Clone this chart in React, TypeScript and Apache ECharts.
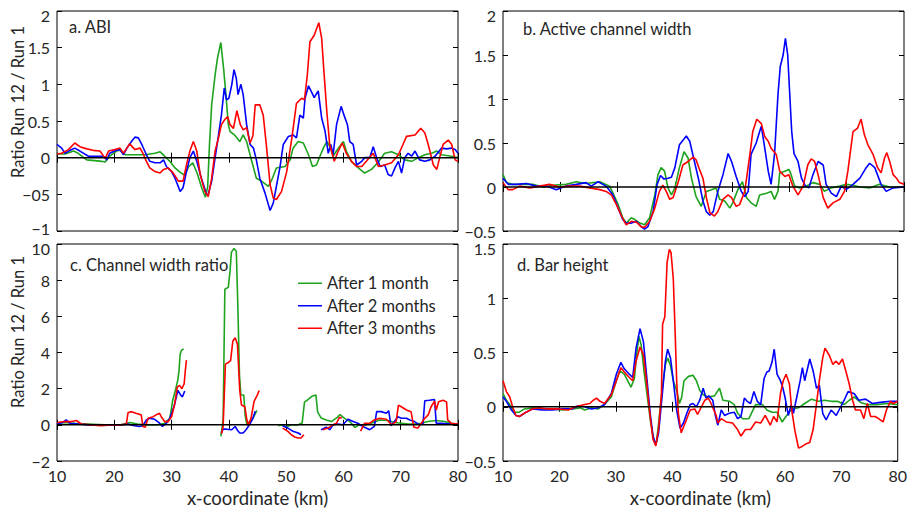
import React, { useEffect, useRef } from "react";
import * as echarts from "echarts";

// ---------- data (x km, ratio) ----------
const seriesNames = ["After 1 month", "After 2 months", "After 3 months"];
const seriesColors = ["#1ea31e", "#0000ff", "#ff0000"];

const abi1 = [[10,0.05],[11.4,0.05],[12.9,0.09],[13.7,0.06],[15.2,-0.03],[16.6,-0.04],[17.8,-0.05],[18.4,-0.06],[19.2,0.02],[20.4,0.09],[21,0.1],[21.9,0.04],[23.6,0.04],[25.4,0.04],[27.1,0.06],[28,0.08],[28.8,0.02],[29.7,-0.05],[30.6,-0.14],[31.5,-0.2],[32.3,-0.24],[33,-0.12],[33.7,-0.07],[34.5,-0.22],[35.3,-0.42],[35.9,-0.54],[36.3,-0.4],[36.6,0.15],[37,0.72],[37.6,1.13],[38,1.35],[38.6,1.57],[39.1,1.2],[39.5,0.85],[39.9,0.45],[40.2,0.36],[41.1,0.3],[41.9,0.22],[42.5,0.31],[43.1,0.22],[44,-0.05],[44.8,-0.28],[45.7,-0.32],[46.9,-0.39],[47.5,-0.3],[48.3,-0.14],[49.8,-0.12],[50.7,-0.03],[51.2,0.13],[52.1,0.22],[53,0.2],[53.9,0.04],[54.6,-0.12],[55.3,-0.1],[55.9,0.02],[56.5,0.13],[57.1,0.22],[57.8,0.13],[58.2,0.02],[59.1,0.13],[60,0.22],[60.5,0.09],[61.4,-0.05],[62.6,-0.14],[63.7,-0.21],[64.9,-0.16],[66,-0.07],[67.2,0.06],[68.4,0.08],[69.6,0.04],[70.7,-0.03],[71.9,-0.05],[73.1,0],[74.2,0.04],[75.4,0.06],[76.3,0.09],[77.1,0.04],[78.9,0.02],[80,0]];
const abi2 = [[10,0.18],[10.8,0.13],[11.4,0.06],[12.3,0.1],[13.1,0.13],[14,0.09],[15.5,0.02],[16.9,0.02],[18.1,0.02],[18.7,-0.03],[19.2,0.06],[20.4,0.1],[21,0.11],[21.6,0.04],[22.2,0.13],[23,0.22],[23.6,0.28],[24.2,0.27],[24.8,0.18],[25.6,0.04],[26.2,-0.05],[27.1,-0.07],[28,-0.07],[28.6,-0.03],[29.1,-0.12],[30,-0.19],[30.6,-0.28],[31.5,-0.46],[32,-0.41],[32.6,-0.19],[33.2,0],[33.8,0.09],[34.4,-0.05],[35.2,-0.28],[36.1,-0.5],[36.4,-0.5],[37,-0.32],[37.6,0],[38.2,0.31],[38.7,0.58],[39.2,0.95],[39.6,0.79],[40,0.81],[40.5,0.99],[40.9,1.2],[41.3,1.08],[41.6,0.86],[42.1,1],[42.5,0.86],[43.1,0.45],[43.7,0.18],[44.3,0.13],[44.8,-0.03],[45.4,-0.28],[46.3,-0.48],[47.2,-0.72],[47.75,-0.62],[48.3,-0.39],[48.9,-0.14],[49.5,0.18],[50.4,0.29],[51.2,0.31],[51.8,0.27],[52.4,0.58],[53,0.54],[53.3,0.81],[53.9,0.98],[54.4,0.9],[54.9,0.82],[55.6,0.91],[56.2,0.54],[56.8,0.36],[57.35,0.06],[57.8,0.18],[58.2,0.04],[58.8,0.45],[59.6,0.7],[60.1,0.58],[60.7,0.45],[61.1,0.22],[61.7,0.18],[62.3,-0.1],[63.2,-0.05],[63.7,0],[64.6,0],[65.2,0.15],[65.8,0],[66.4,-0.12],[67.2,-0.1],[67.8,-0.23],[68.4,-0.25],[69,-0.14],[69.6,-0.05],[70.15,-0.21],[70.7,0],[71.3,0.06],[71.9,0.02],[72.5,0.09],[73.3,-0.03],[74.2,-0.05],[75.1,-0.03],[76,0.02],[77.1,0.13],[78,0.12],[78.9,0.13],[79.5,0.11],[80,0.06]];
const abi3 = [[10,0.05],[10.8,0.06],[12,0.11],[13.1,0.2],[14,0.15],[15.2,0.12],[16.3,0.1],[17.5,0.09],[18.4,-0.01],[19,0.09],[20.1,0.11],[21,0.13],[21.6,0.06],[22.2,0.13],[22.7,0.19],[23.6,0.11],[24.5,0.13],[25,0.06],[25.6,-0.05],[26.2,-0.14],[27.1,-0.19],[28,-0.21],[28.6,-0.16],[29.4,-0.14],[30.3,-0.21],[31.2,-0.32],[32,-0.32],[32.6,-0.1],[33.2,0.09],[33.8,0.22],[34.4,0.09],[35,-0.23],[35.8,-0.46],[36.4,-0.53],[37,-0.28],[37.6,0.09],[38.2,0.27],[38.7,0.45],[39.3,0.52],[39.8,0.56],[40.2,0.45],[40.8,0.4],[41.4,0.64],[42,0.45],[42.5,0.38],[43.1,0.41],[43.7,0.2],[44.2,0.3],[44.6,0.72],[45.4,0.72],[46,0.58],[46.6,0.13],[47.2,-0.37],[47.75,-0.55],[48.3,-0.57],[49.2,-0.46],[50.1,-0.19],[51,0.27],[51.8,0.74],[52.7,0.81],[53.2,0.79],[53.7,1.13],[54.15,1.58],[54.9,1.67],[55.7,1.84],[56.2,1.63],[56.6,1.17],[57.1,0.63],[57.6,0.18],[58.4,-0.05],[59.1,0.09],[59.8,0.2],[60.5,0.06],[61.4,-0.05],[62.3,-0.12],[63.2,-0.12],[64,-0.05],[65.2,0.06],[66.1,-0.12],[67.2,-0.1],[68.4,-0.07],[69.6,0.04],[70.4,0.18],[71,0.29],[72.5,0.31],[73.5,0.4],[74.2,0.34],[74.8,0.18],[75.7,-0.1],[76.3,-0.16],[76.8,0],[77.4,0.18],[78.3,0.24],[78.9,0.18],[79.5,-0.03],[80,-0.05]];

const acw1 = [[10,0.14],[10.6,0.05],[11.7,0.03],[13.5,0.03],[15.2,0.03],[17,0],[18.7,0.02],[21,0.03],[22.8,0.06],[24.5,0.04],[26.9,0.06],[28.6,0.01],[29.2,-0.07],[30.1,-0.2],[30.9,-0.35],[31.5,-0.41],[32.4,-0.35],[33,-0.37],[33.9,-0.41],[34.7,-0.43],[35.6,-0.35],[36.5,-0.09],[37.05,0.14],[37.6,0.22],[38.2,0.18],[38.8,-0.01],[39.4,-0.09],[40,-0.01],[40.8,0.22],[41.6,0.4],[42.3,0.33],[42.9,0.1],[43.7,-0.11],[44.6,-0.22],[45.5,-0.05],[46.4,-0.03],[47.2,-0.01],[47.8,-0.14],[48.7,-0.16],[49.6,-0.24],[50.1,-0.18],[51,-0.03],[51.8,0.06],[52.5,-0.12],[53.3,-0.18],[54.2,-0.22],[54.8,-0.09],[56,-0.07],[56.8,-0.05],[57.4,-0.14],[58,-0.05],[58.3,0.16],[59.2,0.18],[59.9,0.2],[60.3,0.14],[60.9,0.01],[61.8,-0.01],[62.9,0.01],[64.1,0.05],[65.3,0.03],[66.1,-0.05],[67.3,-0.01],[68.8,0.01],[69.9,0.03],[71.1,0.02],[72.3,0],[74,-0.01],[75.7,0.03],[77.5,0],[80,0]];
const acw2 = [[10,0.1],[10.9,0.03],[12.3,0.03],[14.1,0.04],[15.8,0.01],[17.6,0.01],[19.3,-0.03],[21,0.01],[22.8,0.03],[24.5,0.05],[25.4,0.01],[26.6,0.06],[28,0.01],[29.2,-0.09],[30.1,-0.24],[30.9,-0.37],[31.5,-0.41],[32.4,-0.41],[33.3,-0.39],[34.1,-0.45],[34.7,-0.48],[35.3,-0.45],[36.2,-0.28],[36.9,0.03],[37.5,0.13],[38.1,0.09],[38.8,0.1],[39.4,0.11],[40,0.22],[40.8,0.48],[42,0.58],[42.6,0.52],[43.2,0.35],[44.1,0.1],[44.9,-0.16],[45.5,-0.28],[46.1,-0.32],[46.7,-0.28],[47.5,-0.05],[48.4,0.14],[49.3,0.38],[49.9,0.29],[50.7,0.12],[51.6,-0.05],[52.2,-0.11],[52.8,-0.05],[53.3,0.37],[54.2,0.5],[54.8,0.63],[55.1,0.69],[55.7,0.44],[56.3,0.18],[56.8,0.03],[57.4,0.37],[58,1.05],[58.4,1.37],[58.9,1.5],[59.3,1.69],[59.7,1.5],[60,1.12],[60.4,0.63],[60.8,0.38],[61.5,0.29],[62.1,0.1],[62.8,0.01],[63.4,-0.01],[64.1,0.14],[65,0.29],[65.9,0.25],[66.4,0.03],[67.3,-0.07],[68.2,-0.11],[69.05,0.01],[69.9,-0.03],[71.1,0.03],[72.3,0.1],[73.4,0.22],[74,0.27],[74.9,0.22],[76,0.03],[76.9,-0.05],[78.1,-0.01],[80,0]];
const acw3 = [[10,0.05],[10.9,-0.03],[11.7,-0.03],[12.9,0.01],[14.7,-0.01],[16.4,0.01],[18.1,0.03],[19.9,0],[21.6,0.01],[23.4,0.01],[25.1,-0.01],[26.9,-0.03],[28,-0.05],[28.9,-0.09],[29.8,-0.2],[30.7,-0.33],[31.5,-0.43],[32.4,-0.39],[33.3,-0.4],[34.1,-0.45],[34.7,-0.46],[35.6,-0.39],[36.5,-0.24],[37.3,-0.05],[37.9,0.02],[38.5,-0.05],[39.1,-0.14],[39.7,-0.12],[40.6,0.06],[41.4,0.25],[42.3,0.29],[43.2,0.34],[43.7,0.31],[44.3,0.2],[44.9,0.1],[45.5,-0.12],[46.1,-0.29],[46.9,-0.33],[47.5,-0.28],[48.4,-0.14],[49.3,-0.09],[49.9,-0.12],[50.7,-0.22],[51.3,-0.2],[52.2,-0.05],[53.1,0.37],[53.6,0.63],[54.3,0.77],[55.1,0.72],[55.7,0.57],[56.3,0.52],[56.8,0.44],[57.7,0.37],[58.3,0.18],[59.2,0.12],[59.9,0.14],[60.6,0.01],[61.5,-0.09],[62.4,0.01],[63.2,0.25],[63.8,0.32],[64.4,0.29],[65,0.14],[65.9,-0.12],[66.7,-0.24],[67.6,-0.18],[68.8,-0.14],[69.6,-0.05],[70.2,0.18],[71.1,0.63],[71.9,0.67],[72.5,0.77],[73.1,0.59],[73.7,0.48],[74.6,0.37],[75.4,0.22],[76,0.16],[76.6,0.33],[77,0.39],[77.5,0.29],[78.1,0.14],[78.7,0.1],[79.2,0.05],[80,0.03]];

const cwr1 = [[10,0.09],[11.3,0.13],[13.1,0.09],[15.4,0.05],[18.3,0],[21.2,0],[22.7,0.13],[24.1,0.04],[25.9,0],[27.6,0],[28.8,0.09],[29.7,0.36],[30.2,1.36],[30.7,1.95],[31.1,2.5],[31.3,3],[31.5,3.9],[31.7,4.1],[32.1,4.2],[35,null],[38.6,-0.64],[39,0.3],[39.3,7.5],[39.9,7.6],[40.2,8.5],[40.45,9.55],[40.9,9.75],[41.3,9.6],[41.55,6.8],[41.85,2.8],[42.1,1.65],[42.6,1.65],[42.85,0.5],[43.15,0],[43.6,0.18],[44.2,0.36],[44.9,0.8],[47,null],[48.6,-0.05],[49.2,0],[50,-0.12],[50.9,0],[52.1,0],[52.8,0.1],[53.2,1.25],[53.8,1.4],[54.5,1.58],[55.2,1.65],[55.5,0.7],[56.1,0.38],[57,0.27],[57.9,0.18],[58.8,0.38],[59.4,0.57],[60.2,0.36],[61.1,0.18],[62,-0.14],[62.8,0],[64,0],[65.2,0.13],[66.3,0.27],[67.8,0.24],[68.9,0.13],[70.1,0.09],[71.3,0.05],[72.4,0.05],[73.6,0.09],[74.7,0.18],[76.2,0.24],[77.7,0.18],[78.8,0.09],[80,0.04]];
const cwr2 = [[10,0.05],[11,0.13],[11.6,0.27],[12.2,0.09],[13.7,0.05],[15.4,0],[18.3,-0.02],[21.2,0],[22.4,0.04],[23.3,-0.04],[24.4,-0.09],[25,-0.05],[25.6,0.27],[26.2,0.36],[27,0.31],[27.9,0.09],[28.4,-0.09],[29.1,0.09],[29.7,0.36],[30.5,1.09],[31.1,1.91],[31.6,1.64],[31.9,1.55],[32.3,1.87],[35,null],[38.7,-0.45],[39,-0.24],[39.6,-0.24],[40.5,-0.27],[41.1,-0.09],[41.5,-0.3],[41.9,-0.45],[42.5,-0.45],[43,-0.27],[43.6,0],[44.2,0.36],[44.6,0.75],[47,null],[49.4,-0.05],[50.3,-0.18],[51.2,-0.36],[52.1,-0.45],[52.6,-0.55],[54,null],[56.1,-0.27],[57,-0.13],[57.6,-0.27],[58.2,0],[59,0.05],[59.9,0],[60.8,0.31],[61.7,0.18],[62.5,0.09],[63.4,-0.09],[64.6,-0.27],[65.4,-0.09],[65.8,0.73],[66.6,0.73],[67.5,0.64],[67.9,0.78],[68.3,-0.05],[68.9,0.18],[69.5,0.45],[70.1,0.36],[71,0.36],[71.6,0.27],[72.4,0.18],[73.3,0],[73.9,0.09],[74.2,1.33],[75,1.36],[75.9,1.4],[76.2,0.09],[77.1,0.09],[78.8,0.05],[80,0.05]];
const cwr3 = [[10,0.13],[11.3,0.18],[12.5,0.18],[13.4,0.24],[14.2,0.05],[16,0],[17.7,-0.05],[19.5,0],[21.2,0],[22.1,0.04],[22.4,0.67],[23,0.73],[23.8,0.64],[24.7,0.55],[25,-0.09],[25.4,-0.13],[25.9,0.36],[26.8,0.45],[27.3,0.55],[27.9,0.64],[28.2,0.45],[28.8,0.18],[29.4,0.18],[30,0.45],[30.5,1.09],[31,2.09],[31.4,2.18],[31.8,2],[32.2,2.27],[32.4,3],[32.6,3.58],[35,null],[38.7,-0.5],[39,-0.09],[39.4,3.36],[39.9,3.45],[40.3,3.55],[40.7,4.64],[41.1,4.82],[41.5,4.45],[41.9,1.9],[42.2,1.1],[42.8,1],[43.1,0.36],[43.4,-0.05],[43.9,0.4],[44.4,1.3],[44.9,1.6],[45.3,1.9],[47,null],[49.4,-0.18],[50.3,-0.36],[50.9,-0.55],[51.5,-0.67],[52.1,-0.73],[52.6,-0.73],[53.1,-0.55],[55,null],[56.4,-0.27],[57.3,-0.18],[58.2,0],[58.8,0.09],[59.3,0.42],[59.7,0.36],[61,null],[63,-0.35],[63.7,0.09],[64.6,0.09],[65.4,0.27],[66.3,0.36],[67.5,0.31],[68.4,0],[69.2,0.18],[69.6,1.09],[70.1,1],[71,0.82],[71.8,0.73],[72.3,-0.13],[73,-0.18],[73.6,0.09],[74.2,0.36],[74.8,0.55],[75.3,1],[75.9,1.31],[76.2,0.82],[76.6,1.27],[77.4,1.36],[78,1.27],[78.2,0.27],[78.8,0.09],[80,0.04]];

const bh1 = [[10,0.12],[10.6,0.06],[11.2,0.02],[12,-0.05],[12.9,-0.05],[13.8,-0.02],[15.2,-0.01],[17,-0.02],[18.7,-0.02],[20.5,-0.03],[22.2,-0.02],[23.7,-0.01],[24.5,-0.03],[25.7,-0.01],[26.9,-0.02],[28,0.02],[29.2,0.09],[30.1,0.24],[30.7,0.33],[31.5,0.3],[32.4,0.21],[32.7,0.18],[33.3,0.26],[33.7,0.48],[34.1,0.65],[34.5,0.57],[35,0.33],[35.6,0.09],[36.2,-0.15],[36.8,-0.32],[37.2,-0.33],[37.6,-0.15],[38.2,0.15],[38.8,0.39],[39.2,0.45],[39.7,0.38],[40.2,0.24],[40.8,0.15],[41.3,0.03],[41.7,0.09],[42.1,0.24],[42.9,0.28],[43.7,0.29],[44.3,0.24],[44.9,0.15],[45.5,0.11],[46.4,0.09],[47.5,0.1],[48.4,0.17],[49,0.06],[50.2,0.05],[51,0.02],[51.6,-0.06],[52.5,-0.11],[53.6,-0.11],[54.8,0.02],[56,0.02],[56.8,-0.03],[57.7,-0.05],[58.6,-0.05],[59.5,-0.14],[60.3,-0.08],[61.2,-0.02],[62.4,-0.01],[63.5,0.03],[64.7,0.07],[65.9,0.05],[67,0.06],[68.2,0.05],[69.3,0.05],[70.5,0.02],[71.4,0.06],[72.3,0.09],[73.4,0.04],[74.6,0.02],[76.3,0.02],[78.1,0.03],[80,0.02]];
const bh2 = [[10,0.09],[10.6,0.05],[11.5,-0.03],[12.3,-0.08],[12.9,-0.09],[14.1,-0.05],[15.2,-0.02],[17,-0.03],[18.7,-0.03],[20.5,-0.02],[22.2,-0.02],[23.4,0.01],[24.5,0],[25.7,-0.02],[26.9,-0.01],[28,0.02],[29.2,0.12],[30.1,0.3],[30.9,0.41],[31.5,0.35],[32.4,0.3],[33,0.27],[33.6,0.54],[34.3,0.72],[34.9,0.6],[35.5,0.27],[36.1,-0.06],[36.6,-0.27],[37.1,-0.35],[37.6,-0.24],[38.2,0.09],[38.8,0.42],[39.2,0.53],[39.7,0.45],[40.2,0.24],[40.8,-0.03],[41.4,-0.2],[42,-0.15],[42.6,-0.06],[43.2,0.02],[43.7,0.03],[44.3,0],[44.9,0.06],[45.5,0.17],[46,0.08],[46.5,0.1],[47.2,0.06],[47.7,-0.09],[48.1,-0.17],[48.7,-0.03],[49.3,-0.08],[50.1,-0.06],[51,-0.05],[51.6,-0.11],[52.2,-0.09],[52.8,0.08],[53.3,0.05],[53.9,0.03],[54.5,0.14],[55.1,0.05],[55.7,0.02],[56.3,0.26],[56.8,0.32],[57.2,0.33],[57.7,0.41],[58.1,0.53],[58.6,0.3],[59.2,0.24],[59.6,0.18],[60,0.09],[60.6,-0.08],[61.1,0.02],[61.5,-0.06],[62.1,0.09],[62.7,0.24],[63.1,0.36],[63.5,0.24],[64.4,0.44],[65,0.33],[65.6,0.17],[66.1,0.2],[66.7,-0.06],[67.3,-0.12],[68.2,-0.03],[69.1,-0.08],[69.6,-0.03],[70.5,0.06],[71.2,0.14],[72.3,0.12],[73.1,0.06],[74.3,0.07],[75.5,0.03],[76.9,0.04],[78.7,0.05],[80,0.05]];
const bh3 = [[10,0.24],[10.6,0.14],[11.2,0.09],[11.7,0],[12.3,-0.08],[12.9,-0.09],[14.1,-0.05],[15.2,-0.02],[16.4,-0.01],[18.1,-0.02],[19.9,-0.02],[21.6,-0.03],[22.8,0],[24.5,0.02],[25.4,0.03],[26,0.06],[26.6,0.08],[27.2,0.05],[28,0.03],[29.2,0.11],[30.1,0.24],[30.9,0.36],[31.5,0.32],[32.4,0.27],[33,0.24],[33.6,0.42],[34.3,0.55],[34.9,0.48],[35.5,0.21],[36.1,-0.09],[36.6,-0.3],[37.1,-0.36],[37.6,-0.2],[38.1,0.12],[38.3,0.76],[38.7,0.83],[39.1,1.33],[39.5,1.45],[39.8,1.42],[40.2,1.18],[40.5,0.73],[40.8,0.24],[41.1,-0.06],[41.6,-0.24],[42.3,-0.15],[43.2,-0.03],[44,-0.02],[44.5,-0.07],[45.2,0],[45.8,0.06],[46.4,0.08],[46.9,0.03],[47.8,-0.08],[48.1,-0.15],[48.7,-0.11],[49.6,-0.14],[50.7,-0.15],[51.6,-0.21],[52.2,-0.27],[53,-0.21],[53.9,-0.21],[54.8,-0.14],[55.7,-0.15],[56.5,-0.08],[57.4,-0.17],[58,-0.09],[58.6,-0.14],[59.2,0.12],[59.7,0.24],[60.2,0.3],[60.8,0.21],[61.2,-0.03],[61.8,-0.23],[62.4,-0.38],[62.9,-0.37],[63.8,-0.34],[64.4,-0.33],[65,-0.21],[65.6,0.03],[66.1,0.24],[66.7,0.45],[67.1,0.54],[67.9,0.47],[68.5,0.39],[69,0.42],[69.6,0.39],[70.2,0.44],[70.8,0.33],[71.4,0.21],[72,0.06],[72.5,-0.03],[73.4,-0.03],[74,-0.11],[74.6,0.03],[75.2,-0.09],[76,-0.09],[76.6,-0.11],[77.4,-0.14],[78,-0.03],[78.7,0.05],[79.2,0.03],[80,0.05]];

const panelTitles = ["a. ABI", "b. Active channel width", "c. Channel width ratio", "d. Bar height"];
const yRanges = [[-1, 2, 0.5], [-0.5, 2, 0.5], [-2, 10, 2], [-0.5, 1.5, 0.5]];
const xRange = [10, 80, 10];
const yTitle = "Ratio Run 12 / Run 1";
const xTitle = "x-coordinate (km)";
const panelData = [[abi1, abi2, abi3], [acw1, acw2, acw3], [cwr1, cwr2, cwr3], [bh1, bh2, bh3]];

const FONT = "Lato";
const TXT = "#262626";

export default function App() {
  const ref = useRef<HTMLDivElement>(null);
  useEffect(() => {
    if (!ref.current) return;
    const chart = echarts.init(ref.current, undefined, { renderer: "svg" });
    const grids = [
      { left: 57, top: 11, width: 401, height: 220 },
      { left: 503, top: 11, width: 401, height: 220 },
      { left: 57, top: 244, width: 401, height: 221 },
      { left: 503, top: 244, width: 401, height: 221 },
    ];
    const labelStyle = { fontFamily: FONT, fontSize: 16, color: TXT };
    const fmt = (panel: number) => (v: number) => {
      let s: string;
      if (panel === 0 && v === -0.5) s = "\u221205";
      else if (v < 0) s = "\u2212" + String(-v);
      else s = String(v);
      const [mn, mx] = yRanges[panel];
      if (v === mx) return "{t|" + s + "}";
      if (v === mn && panel === 0) return "{b|" + s + "}";
      return s;
    };
    const xAxis: any[] = [];
    const yAxis: any[] = [];
    const series: any[] = [];
    grids.forEach((g, i) => {
      const bottomLabels = i >= 2;
      const tick = { show: true, inside: true, length: 5, lineStyle: { color: "#000", width: 1 } };
      xAxis.push({
        type: "value", gridIndex: i, position: "bottom", min: xRange[0], max: xRange[1], interval: xRange[2],
        axisLine: { show: false }, axisTick: tick, splitLine: { show: false },
        axisLabel: { show: bottomLabels, ...labelStyle, margin: 6 },
        name: bottomLabels ? xTitle : "", nameLocation: "middle", nameGap: 27,
        nameTextStyle: { fontFamily: FONT, fontSize: 18.5, color: TXT },
      });
      xAxis.push({
        type: "value", gridIndex: i, position: "top", min: xRange[0], max: xRange[1], interval: xRange[2],
        axisLine: { show: false }, axisTick: tick, splitLine: { show: false }, axisLabel: { show: false },
      });
      const [mn, mx, iv] = yRanges[i];
      yAxis.push({
        type: "value", gridIndex: i, position: "left", min: mn, max: mx, interval: iv,
        axisLine: { show: false }, axisTick: tick, splitLine: { show: false },
        axisLabel: {
          ...labelStyle, margin: 7, formatter: fmt(i),
          rich: {
            t: { ...labelStyle, padding: [9, 0, 0, 0] },
            b: { ...labelStyle, padding: [0, 0, 6, 0] },
          },
        },
      });
      yAxis.push({
        type: "value", gridIndex: i, position: "right", min: mn, max: mx, interval: iv,
        axisLine: { show: false }, axisTick: tick, splitLine: { show: false }, axisLabel: { show: false },
      });
      panelData[i].forEach((d, k) => {
        series.push({
          type: "line", name: seriesNames[k], xAxisIndex: 2 * i, yAxisIndex: 2 * i,
          data: d, showSymbol: false, symbol: "none", connectNulls: false,
          lineStyle: { color: seriesColors[k], width: 1.6 }, itemStyle: { color: seriesColors[k] },
          z: 2 + k,
        });
      });
      series.push({
        type: "line", name: "zero", xAxisIndex: 2 * i, yAxisIndex: 2 * i,
        data: [[xRange[0], 0], [xRange[1], 0]], showSymbol: false, symbol: "none", silent: true,
        lineStyle: { color: "#000", width: 1.5 }, z: 6,
      });
    });
    const titlePos = [[69, 27], [523, 29], [70, 265], [517, 265]];
    const graphic: any[] = panelTitles.map((t, i) => ({
      type: "text", x: titlePos[i][0], y: titlePos[i][1], z: 10,
      style: { text: t, fontFamily: FONT, fontSize: 16.5, fill: TXT, align: "left", verticalAlign: "middle" },
    }));
    [[18, 102], [18, 332]].forEach(([x, y]) => {
      graphic.push({
        type: "text", x, y, rotation: Math.PI / 2, z: 10,
        style: { text: yTitle, fontFamily: FONT, fontSize: 16.5, fill: TXT, align: "center", verticalAlign: "middle" },
      });
    });
    chart.setOption({
      animation: false,
      backgroundColor: "#fff",
      grid: grids.map((g) => ({ ...g, show: true, borderColor: "#000", borderWidth: 1, backgroundColor: "transparent" })),
      xAxis, yAxis, series, graphic,
      legend: {
        data: seriesNames, orient: "vertical", left: 293, top: 267, itemGap: 0,
        icon: "rect", itemWidth: 24, itemHeight: 1.5, itemTextGap: 10,
        textStyle: { fontFamily: FONT, fontSize: 16.5, color: TXT, lineHeight: 22.5 },
        selectedMode: false,
      },
    });
    return () => chart.dispose();
  }, []);
  return <div ref={ref} style={{ position: "fixed", left: 0, top: 0, width: 910, height: 508 }} />;
}
